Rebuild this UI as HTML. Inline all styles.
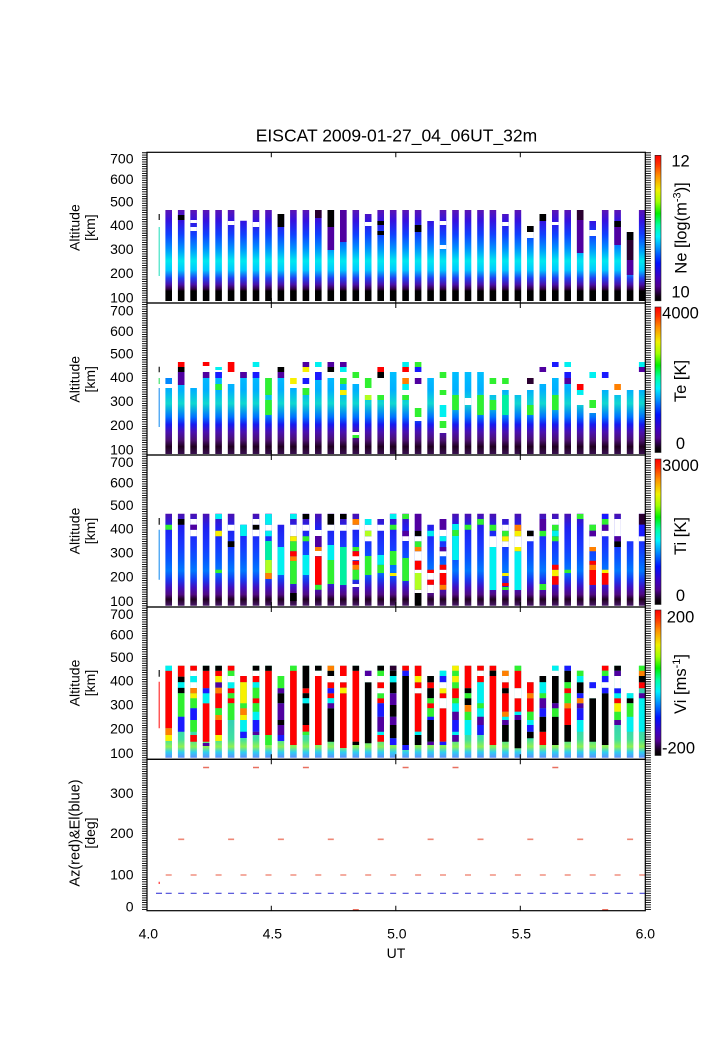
<!DOCTYPE html>
<html><head><meta charset="utf-8">
<style>
body{margin:0;background:#fff}
svg{display:block}
text{font-family:"Liberation Sans",Arial,sans-serif;fill:#000}
.cl path{fill:none;stroke-width:6.6}
.r{stroke:#ff0000}.k{stroke:#000}.p{stroke:#5000a0}.d{stroke:#2a0030}.b{stroke:#1a1aff}.l{stroke:#0088ff}.c{stroke:#00f0f0}.t{stroke:#00f0a0}.g{stroke:#30f030}.v{stroke:#b0ff20}.y{stroke:#f8f000}.o{stroke:#ff8000}.w{stroke:#fff}
.b1{stroke:url(#g1)}.b2{stroke:url(#g2)}.b3{stroke:url(#g3)}.b4{stroke:url(#g4)}
.th path{fill:none;stroke-width:1.1}
</style></head>
<body>
<svg width="708" height="1063" viewBox="0 0 708 1063" xmlns="http://www.w3.org/2000/svg">
<defs>
<linearGradient id="g1" gradientUnits="userSpaceOnUse" x1="0" y1="210" x2="0" y2="301">
<stop offset="0" stop-color="#5a14b4"/><stop offset="0.12" stop-color="#3412e0"/><stop offset="0.27" stop-color="#1040ff"/><stop offset="0.42" stop-color="#0090ff"/><stop offset="0.56" stop-color="#00e8f0"/><stop offset="0.66" stop-color="#00c8ff"/><stop offset="0.75" stop-color="#2040f0"/><stop offset="0.82" stop-color="#4a10a8"/><stop offset="0.87" stop-color="#300040"/><stop offset="0.89" stop-color="#000"/><stop offset="1" stop-color="#000"/>
</linearGradient>
<linearGradient id="g2" gradientUnits="userSpaceOnUse" x1="0" y1="362" x2="0" y2="454">
<stop offset="0" stop-color="#00c8ff"/><stop offset="0.3" stop-color="#00b0ff"/><stop offset="0.45" stop-color="#10d8d0"/><stop offset="0.6" stop-color="#0070ff"/><stop offset="0.68" stop-color="#1818f0"/><stop offset="0.76" stop-color="#4a10b0"/><stop offset="0.85" stop-color="#4a1070"/><stop offset="0.92" stop-color="#200020"/><stop offset="1" stop-color="#3a1050"/>
</linearGradient>
<linearGradient id="g3" gradientUnits="userSpaceOnUse" x1="0" y1="513.7" x2="0" y2="605.7">
<stop offset="0" stop-color="#4a10b0"/><stop offset="0.15" stop-color="#2020f0"/><stop offset="0.35" stop-color="#1838ff"/><stop offset="0.5" stop-color="#0858ff"/><stop offset="0.62" stop-color="#0078ff"/><stop offset="0.72" stop-color="#1838f0"/><stop offset="0.8" stop-color="#4010c0"/><stop offset="0.88" stop-color="#500a80"/><stop offset="0.93" stop-color="#200020"/><stop offset="1" stop-color="#4a1a6a"/>
</linearGradient>
<linearGradient id="g4" gradientUnits="userSpaceOnUse" x1="0" y1="665.7" x2="0" y2="757.7">
<stop offset="0" stop-color="#40d8a0"/><stop offset="0.5" stop-color="#30c8c0"/><stop offset="0.8" stop-color="#40e0a0"/><stop offset="0.88" stop-color="#90f050"/><stop offset="0.94" stop-color="#30d0f0"/><stop offset="1" stop-color="#6090ff"/>
</linearGradient>
<linearGradient id="cb" x1="0" y1="0" x2="0" y2="1">
<stop offset="0" stop-color="#ff0000"/><stop offset="0.06" stop-color="#ff3000"/><stop offset="0.14" stop-color="#ff9000"/><stop offset="0.24" stop-color="#f0f000"/><stop offset="0.32" stop-color="#a0ff00"/><stop offset="0.4" stop-color="#00f000"/><stop offset="0.48" stop-color="#00ffa0"/><stop offset="0.56" stop-color="#00f0ff"/><stop offset="0.64" stop-color="#0090ff"/><stop offset="0.74" stop-color="#0010ff"/><stop offset="0.84" stop-color="#4000c0"/><stop offset="0.9" stop-color="#500090"/><stop offset="0.97" stop-color="#100010"/><stop offset="1" stop-color="#000"/>
</linearGradient>
</defs>
<rect width="708" height="1063" fill="#fff"/>

<text x="396.5" y="141.7" font-size="17.5" text-anchor="middle">EISCAT 2009-01-27_04_06UT_32m</text>

<!-- PANEL 1 -->
<g class="cl">
<path class="b1" d="M168.7 210V301M181.2 210V301M193.6 210V301M206.1 210V301M218.6 210V301M231.1 210V301M243.5 220.7V301M256 210V301M268.5 210V301M280.9 214V301M293.4 210V301M305.9 210V301M318.3 210V301M330.8 210V301M343.3 210V301M355.8 210V301M368.2 214V301M380.7 210V301M393.2 210V301M405.6 210V301M418.1 210V301M430.6 221V301M443 210V301M455.5 210V301M468 210V301M480.5 210V301M492.9 210V301M505.4 214V301M517.9 210V301M530.3 226V301M542.8 214V301M555.3 210V301M567.7 210V301M580.2 210V301M592.7 221V301M605.2 210V301M617.6 210V301M630.1 232V301M642.2 210V301"/>
<path class="k" d="M181.2 215V220M280.9 214V227M330.8 210V227M380.7 221V225M380.7 231V235M418.1 225V232M530.3 226V232M542.8 214V221M617.6 221V227M630.1 232V240"/>
<path class="w" d="M193.6 220V223M193.6 227V231M231.1 221V225M256 222V227M368.2 222V226M443 221V225M443 245V249M505.4 222V226M530.3 232V238M555.3 222V225M592.7 230V236"/>
<path class="p" d="M330.8 227V250M343.3 210V242M580.2 220V253M617.6 227V245M630.1 260V275"/>
<path class="d" d="M318.3 210V218M580.2 210V220M630.1 240V260"/>
</g>

<!-- PANEL 2 -->
<g class="cl">
<path class="b2" d="M168.7 388V454M181.2 372V454M193.6 388V454M206.1 378V454M218.6 372V454M231.1 384V454M243.5 372V454M256 372V454M268.5 378V454M280.9 378V454M293.4 388V454M305.9 388V454M318.3 372V454M330.8 378V454M343.3 378V454M355.8 384V454M368.2 395V454M380.7 395V454M393.2 372V454M405.6 395V454M418.1 421V454M430.6 378V454M443 433V454M455.5 372V454M468 372V454M480.5 372V454M492.9 395V454M505.4 390V454M517.9 395V454M530.3 390V454M542.8 384V454M555.3 378V454M567.7 384V454M580.2 405V454M592.7 413V454M605.2 390V454M617.6 395V454M630.1 390V454M642.2 390V454"/>
<path class="r" d="M181.2 362V367M206.1 362V366M231.1 362V372M380.7 367V372M405.6 367V372M580.2 384V390"/>
<path class="k" d="M181.2 367V372M280.9 367V372M330.8 367V372M380.7 372V378"/>
<path class="p" d="M181.2 372V385M206.1 372V378M243.5 372V378M280.9 372V378M305.9 362V367M330.8 362V367M343.3 362V367M418.1 378V384M542.8 367V372M567.7 378V384M642.2 367V372"/>
<path class="d" d="M530.3 378V384"/>
<path class="l" d="M168.7 378V384"/>
<path class="b" d="M218.6 372V378M256 372V378M305.9 378V384M318.3 372V380M418.1 367V372M555.3 362V367M567.7 372V378M605.2 372V378"/>
<path class="c" d="M218.6 367V370M256 362V367M318.3 362V367M343.3 367V372M405.6 362V367M405.6 384V390M443 405V417M567.7 362V367M580.2 390V395M592.7 372V378M642.2 362V367"/>
<path class="g" d="M218.6 384V390M268.5 378V395M268.5 400V415M305.9 388V395M343.3 378V384M355.8 372V378M355.8 435V438M368.2 378V388M380.7 395V400M405.6 395V400M418.1 362V367M418.1 408V417M443 372V378M443 390V395M443 421V428M455.5 395V410M480.5 395V415M492.9 378V384M492.9 400V410M505.4 378V384M530.3 405V415M555.3 395V410M592.7 400V408"/>
<path class="v" d="M368.2 395V400"/>
<path class="y" d="M293.4 378V384M305.9 367V372M343.3 390V395"/>
<path class="o" d="M405.6 378V384M617.6 384V390"/>
<path class="w" d="M355.8 432V435M468 398V405"/>
<path class="t" d="M505.4 395V415"/>
</g>

<!-- PANEL 3 -->
<g class="cl">
<path class="b3" d="M168.7 513.7V605.7M181.2 513.7V605.7M193.6 513.7V605.7M206.1 513.7V605.7M218.6 513.7V605.7M231.1 513.7V605.7M243.5 524.7V605.7M256 513.7V605.7M268.5 513.7V605.7M280.9 524.7V605.7M293.4 513.7V605.7M305.9 513.7V605.7M318.3 513.7V605.7M330.8 513.7V605.7M343.3 513.7V605.7M355.8 513.7V605.7M368.2 519V605.7M380.7 519V605.7M393.2 513.7V605.7M405.6 513.7V605.7M418.1 513.7V605.7M430.6 524.7V605.7M443 519V605.7M455.5 513.7V605.7M468 513.7V605.7M480.5 513.7V605.7M492.9 513.7V605.7M505.4 519V605.7M517.9 513.7V605.7M530.3 530.7V605.7M542.8 513.7V605.7M555.3 513.7V605.7M567.7 513.7V605.7M580.2 513.7V605.7M592.7 524.7V605.7M605.2 513.7V605.7M617.6 513.7V605.7M630.1 541.3V605.7M642.2 513.7V605.7"/>
<path class="g" d="M168.7 524.7V529.7M218.6 569.7V573M293.4 541.3V551.3M293.4 561V584M305.9 536.3V541.3M318.3 584.7V589.7M330.8 560V584M355.8 547V551M355.8 569.7V579.7M368.2 556V575M380.7 564.7V573M393.2 524.7V529.7M393.2 551V565M405.6 514V519M405.6 558V581M418.1 541.3V547M455.5 530V536M468 524.7V529.7M480.5 519V524.7M492.9 524.7V530.7M505.4 530.7V536.3M505.4 587V590M542.8 530.7V536.3M542.8 584V590M555.3 524.7V530.7M555.3 536.3V541.3M567.7 569.7V573M580.2 514V519M592.7 524.7V530.7M605.2 519V524.7"/>
<path class="k" d="M181.2 519V524.7M231.1 541.3V547M256 524.7V529.7M293.4 593V601M305.9 514V519M330.8 514V524.7M343.3 514V519M418.1 530.7V536.3M418.1 593V605.7M530.3 530.7V536.3M617.6 541.3V547"/>
<path class="w" d="M193.6 519V524.7M193.6 529.7V536.3M231.1 524.7V530.7M256 519V524.7M256 529.7V536.3M268.5 524.7V530.7M293.4 524.7V536.3M305.9 524.7V530.7M318.3 530V536M318.3 551V556M330.8 524.7V530.7M343.3 524.7V530.7M355.8 524.7V529.7M355.8 556V560M355.8 584V587M368.2 524.7V530.7M368.2 536.3V541.3M380.7 524.7V530.7M405.6 536V541M418.1 536.3V541.3M418.1 551.3V560.7M418.1 569.7V573M418.1 589.7V593M430.6 573V579.7M430.6 584.7V593M443 529.7V536.3M443 551.3V556.3M443 569.7V573M492.9 536.3V547M505.4 524.7V530.7M505.4 541.3V547M517.9 536.3V547M530.3 536.3V541.3M555.3 519V524.7M592.7 536.3V547M605.2 530.7V536.3M617.6 519V536.3M642.2 536.3V541.3"/>
<path class="p" d="M193.6 524.7V529.7M318.3 536V547M405.6 530.7V536.3M418.1 514V530.7M443 519V529.7M443 547V551.3M542.8 519V530.7M592.7 530.7V536.3M605.2 524.7V530.7M617.6 536.3V541.3"/>
<path class="c" d="M218.6 514V519M243.5 524.7V536M268.5 514V524.7M268.5 530.7V536.3M280.9 547V575M293.4 514V519M305.9 555V575M330.8 545V560M368.2 519V524.7M380.7 555V564.7M393.2 514V519M430.6 530.7V536.3M443 536.3V541.3M455.5 524V530M455.5 536V560M492.9 547V590M517.9 551.3V590M555.3 530.7V536.3"/>
<path class="y" d="M218.6 530.7V536.3M293.4 536.3V541.3M393.2 573V576M505.4 536.3V541.3M505.4 573V576M517.9 530.7V536.3M517.9 547V551.3M555.3 569.7V576.3M605.2 569.7V573"/>
<path class="o" d="M268.5 573V579M293.4 556.3V561M318.3 547V551M355.8 519V524.7M355.8 564.7V569.7M418.1 547V551.3M443 584.7V589.7M517.9 524.7V530.7M592.7 547V551.3M592.7 564.7V570"/>
<path class="r" d="M293.4 551.3V556.3M318.3 556.3V584.7M355.8 551.3V556.3M355.8 560.7V564.7M418.1 560.7V569.7M430.6 569.7V573M430.6 579.7V584.7M443 564.7V569.7M443 573V584.7M505.4 583V586M555.3 564.7V569.7M555.3 576.3V584.7M592.7 560.7V564.7M592.7 570V585M605.2 573V584.7"/>
<path class="t" d="M268.5 541V560M343.3 547V585"/>
<path class="v" d="M268.5 560V573M368.2 530.7V536.3M418.1 573V589.7"/>
<path class="d" d="M642.2 514V524.7"/>
<path class="b" d="M605.2 514V519M642.2 524.7V536.3"/>
</g>

<!-- PANEL 4 -->
<g class="cl">
<path class="b4" d="M168.7 665.7V757.7M181.2 665.7V757.7M193.6 665.7V757.7M206.1 665.7V757.7M218.6 665.7V757.7M231.1 665.7V757.7M243.5 676V757.7M256 665.7V757.7M268.5 665.7V757.7M280.9 676V757.7M293.4 665.7V757.7M305.9 665.7V757.7M318.3 665.7V757.7M330.8 665.7V757.7M343.3 665.7V757.7M355.8 665.7V757.7M368.2 670.7V757.7M380.7 665.7V757.7M393.2 665.7V757.7M405.6 665.7V757.7M418.1 665.7V757.7M430.6 676V757.7M443 670.7V757.7M455.5 665.7V757.7M468 665.7V757.7M480.5 665.7V757.7M492.9 665.7V757.7M505.4 670.7V757.7M517.9 665.7V757.7M530.3 682.3V757.7M542.8 676V757.7M555.3 665.7V757.7M567.7 665.7V757.7M580.2 670.7V757.7M592.7 682.3V757.7M605.2 665.7V757.7M617.6 665.7V757.7M630.1 693.3V757.7M642.2 665.7V757.7"/>
<path class="r" d="M168.7 670.7V728.3M181.2 665.7V676.7M193.6 665.7V670.7M193.6 735V741.7M206.1 670.7V688.3M206.1 703.3V741.7M218.6 670.7V676M218.6 693.3V708.3M218.6 720V735M231.1 665.7V670.7M231.1 688.3V693.3M231.1 698.3V703.3M243.5 676V682.3M256 676V682.3M256 698.3V703.3M268.5 670.7V735M293.4 670.7V745M305.9 688.3V693.3M305.9 725V731.7M318.3 676V745M330.8 682.3V688.3M330.8 693.3V698.3M343.3 665.7V676M343.3 682.3V687.7M343.3 693.3V748M355.8 670.7V741.7M380.7 682.3V688.3M380.7 698.3V703.3M380.7 735V741.7M405.6 665.7V670.7M418.1 665.7V676M418.1 682.3V688.3M418.1 693.3V731.7M430.6 682.3V688.3M430.6 703.3V708.3M443 693.3V698.3M443 708.3V741.7M455.5 688.3V698.3M468 665.7V688.3M480.5 665.7V670.7M480.5 676V682.3M492.9 665.7V670.7M492.9 676V745M505.4 682.3V688.3M505.4 693.3V711.7M517.9 670.7V688.3M517.9 698.3V711.7M530.3 682.3V693.3M530.3 698.3V711.7M542.8 731.7V745M567.7 688.3V693.3M567.7 708.3V725M605.2 665.7V670.7M617.6 698.3V703.3M642.2 682.3V688.3"/>
<path class="k" d="M181.2 676.7V682.3M181.2 687.7V693.3M206.1 665.7V670.7M218.6 665.7V670.7M256 665.7V670.7M268.5 665.7V670.7M280.9 693.3V703.3M280.9 720V725M305.9 665.7V688.3M305.9 693.3V698.3M305.9 703.3V725M318.3 665.7V670.7M330.8 670.7V676M330.8 708.3V741.7M355.8 665.7V670.7M355.8 741.7V745M368.2 682.3V743.3M380.7 665.7V670.7M393.2 670.7V676M393.2 682.3V693.3M393.2 705V716.7M393.2 725V738.3M405.6 676V745M418.1 735V745M430.6 676V682.3M430.6 688.3V698.3M430.6 720V741.7M468 688.3V693.3M468 698.3V705M492.9 670.7V676M505.4 688.3V693.3M505.4 725V741.7M517.9 720V748.3M530.3 731.7V738.3M542.8 676V682.3M542.8 716.7V731.7M555.3 676V703.3M555.3 716.7V745M567.7 670.7V682.3M567.7 725V741.7M580.2 682.3V693.3M592.7 698.3V741.7M605.2 693.3V745M617.6 665.7V670.7M630.1 698.3V703.3M642.2 676V682.3"/>
<path class="c" d="M168.7 665.7V670.7M181.2 682.3V687.7M193.6 676V682.3M206.1 693.3V703.3M231.1 682.3V688.3M243.5 720V731.7M256 682.3V687.7M256 711.7V720M305.9 698.3V703.3M330.8 698.3V703.3M380.7 731.7V735M393.2 676V682.3M418.1 731.7V735M443 670.7V676M455.5 703.3V711.7M455.5 731.7V735M468 720V735M480.5 682.3V703.3M480.5 708.3V716.7M505.4 716.7V720M517.9 711.7V715M530.3 720V725M542.8 682.3V693.3M555.3 665.7V670.7M580.2 676V682.3M580.2 720V731.7M617.6 693.3V698.3M630.1 693.3V698.3M630.1 716.7V731.7M642.2 698.3V731.7"/>
<path class="g" d="M181.2 693.3V716.7M193.6 698.3V708.3M193.6 720V731.7M218.6 708.3V715M231.1 670.7V676M231.1 693.3V698.3M231.1 703.3V720M243.5 703.3V708.3M256 687.7V698.3M256 703.3V711.7M268.5 735V745M280.9 676V688.3M293.4 665.7V670.7M305.9 731.7V735M380.7 670.7V676M380.7 693.3V698.3M430.6 698.3V703.3M430.6 708.3V716.7M455.5 670.7V676M455.5 682.3V688.3M455.5 698.3V703.3M468 693.3V698.3M468 711.7V720M480.5 703.3V708.3M517.9 665.7V670.7M530.3 711.7V720M542.8 693.3V698.3M555.3 708.3V716.7M567.7 682.3V688.3M567.7 693.3V703.3M580.2 670.7V676M605.2 670.7V676M617.6 711.7V720M630.1 703.3V716.7M642.2 665.7V670.7"/>
<path class="b" d="M181.2 716.7V731.7M193.6 708.3V720M206.1 688.3V693.3M243.5 731.7V738M256 720V731.7M280.9 735V741M330.8 688.3V693.3M380.7 703.3V716.7M393.2 738.3V745M405.6 670.7V676M405.6 745V750M430.6 716.7V720M443 676V682.3M443 741.7V745M455.5 720V731.7M480.5 725V735M530.3 725V731.7M542.8 708.3V716.7M567.7 665.7V670.7M580.2 693.3V698.3M580.2 708.3V720M592.7 682.3V688.3M605.2 676V682.3M605.2 687.7V693.3M617.6 688.3V693.3"/>
<path class="p" d="M206.1 743V746M218.6 682.3V687.7M256 731.7V735M280.9 688.3V693.3M280.9 703.3V720M280.9 725V735M330.8 703.3V708.3M368.2 670.7V676M380.7 716.7V731.7M393.2 693.3V705M393.2 716.7V725M430.6 741.7V745M455.5 711.7V720M455.5 735V741.7M480.5 716.7V725M505.4 720V725M517.9 715V720M542.8 698.3V708.3M555.3 703.3V708.3M580.2 703.3V708.3M617.6 670.7V676M617.6 720V725M642.2 693.3V698.3"/>
<path class="d" d="M393.2 665.7V670.7"/>
<path class="y" d="M168.7 735V741M193.6 693.3V698.3M218.6 676V682.3M218.6 735V741M243.5 682.3V703.3M243.5 715V720M343.3 687.7V693.3M418.1 676V682.3M443 688.3V693.3M455.5 665.7V670.7M455.5 676V682.3M617.6 703.3V711.7"/>
<path class="o" d="M168.7 728.3V735M193.6 688V693.3M218.6 687.7V693.3M218.6 715V720M243.5 708.3V715M330.8 665.7V670.7M468 705V711.7M505.4 670.7V676M505.4 711.7V716.7M530.3 693.3V698.3M567.7 703.3V708.3M580.2 698.3V703.3M642.2 670.7V676"/>
<path class="w" d="M193.6 670.7V676M193.6 682.3V688M231.1 676V682.3M256 670.7V676M318.3 670.7V676M330.8 676V682.3M343.3 676V682.3M368.2 676V682.3M380.7 676V682.3M380.7 688.3V693.3M418.1 688.3V693.3M443 682.3V688.3M443 698.3V708.3M480.5 670.7V676M505.4 676V682.3M517.9 688.3V698.3M555.3 670.7V676M592.7 688.3V698.3M605.2 682.3V687.7M617.6 676V688.3"/>
</g>

<!-- thin columns at 4.05 -->
<g class="th">
<path stroke="#000" d="M159.2 214V220M159.2 366.7V372.3M159.2 518V524.7M159.2 670V676.7"/>
<path stroke="#30e0c0" d="M159.2 227V276"/>
<path stroke="#30e060" d="M159.2 378V384"/>
<path stroke="#2090f0" d="M159.2 388V427M159.2 529.7V579.7"/>
<path stroke="#ff2020" d="M159.2 681.7V728.3M159.2 881.7V884"/>
</g>

<!-- PANEL 5 markers -->
<path fill="none" stroke="#e87060" stroke-width="1.6" d="M203.1 767.5h6M253 767.5h6M302.9 767.5h6M402.6 767.5h6M452.5 767.5h6M552.3 767.5h6"/>
<path fill="none" stroke="#ee8877" stroke-width="1.6" d="M178.2 839.3h6M228.1 839.3h6M277.9 839.3h6M327.8 839.3h6M377.7 839.3h6M427.6 839.3h6M477.5 839.3h6M527.3 839.3h6M577.2 839.3h6M627.1 839.3h6"/>
<path fill="none" stroke="#f09080" stroke-width="1.6" d="M165.7 875h6M190.6 875h6M215.6 875h6M240.5 875h6M265.5 875h6M290.4 875h6M315.3 875h6M340.3 875h6M365.2 875h6M390.2 875h6M415.1 875h6M440 875h6M465 875h6M489.9 875h6M514.9 875h6M539.8 875h6M564.7 875h6M589.7 875h6M614.6 875h6M639.2 875h6"/>
<path fill="none" stroke="#e87060" stroke-width="1.6" d="M352.8 909.8h6M602.2 909.8h6"/>
<line x1="165.7" y1="893.3" x2="645" y2="893.3" stroke="#4848d8" stroke-width="1.2" stroke-dasharray="6 6.47"/>
<line x1="156" y1="893.3" x2="162" y2="893.3" stroke="#4848d8" stroke-width="1.2"/>

<!-- axes frames -->
<g fill="none" stroke="#000" stroke-width="1.2">
<rect x="147" y="152.3" width="498.3" height="150.7"/>
<rect x="147" y="303" width="498.3" height="152"/>
<rect x="147" y="455" width="498.3" height="152"/>
<rect x="147" y="607" width="498.3" height="152.3"/>
<rect x="147" y="759.3" width="498.3" height="151.4"/>
</g>
<!-- y ticks (outward) -->
<line x1="144.5" y1="152.3" x2="144.5" y2="910.7" stroke="#000" stroke-width="5" stroke-dasharray="0.9 1.4"/>
<line x1="648.2" y1="152.3" x2="648.2" y2="910.7" stroke="#000" stroke-width="5.5" stroke-dasharray="0.9 1.4"/>
<!-- x ticks -->
<path fill="none" stroke="#000" stroke-width="1" d="M271.3 152.3v5M271.3 298v10M271.3 450v10M271.3 602v10M271.3 754.3v10M271.3 905.7v5M395.8 152.3v5M395.8 298v10M395.8 450v10M395.8 602v10M395.8 754.3v10M395.8 905.7v5M520.3 152.3v5M520.3 298v10M520.3 450v10M520.3 602v10M520.3 754.3v10M520.3 905.7v5"/>

<!-- colorbars -->
<g stroke="#222" stroke-width="0.6">
<rect x="655" y="155.3" width="6" height="145.5" fill="url(#cb)"/>
<rect x="655" y="307" width="6" height="145.5" fill="url(#cb)"/>
<rect x="655" y="459" width="6" height="145.5" fill="url(#cb)"/>
<rect x="655" y="610" width="6" height="145.5" fill="url(#cb)"/>
</g>

<!-- y tick labels -->
<g font-size="14" text-anchor="end">
<text x="133.5" y="163.7">700</text><text x="133.5" y="184.2">600</text><text x="133.5" y="206.7">500</text><text x="133.5" y="230">400</text><text x="133.5" y="254">300</text><text x="133.5" y="278">200</text><text x="133.5" y="302.7">100</text>
<text x="133.5" y="315.5">700</text><text x="133.5" y="336">600</text><text x="133.5" y="358.5">500</text><text x="133.5" y="381.8">400</text><text x="133.5" y="405.8">300</text><text x="133.5" y="429.8">200</text><text x="133.5" y="454.5">100</text>
<text x="133.5" y="467.2">700</text><text x="133.5" y="487.7">600</text><text x="133.5" y="510.2">500</text><text x="133.5" y="533.5">400</text><text x="133.5" y="557.5">300</text><text x="133.5" y="581.5">200</text><text x="133.5" y="606.2">100</text>
<text x="133.5" y="619">700</text><text x="133.5" y="639.5">600</text><text x="133.5" y="662">500</text><text x="133.5" y="685.3">400</text><text x="133.5" y="709.3">300</text><text x="133.5" y="733.3">200</text><text x="133.5" y="758">100</text>
<text x="133.5" y="797.8">300</text><text x="133.5" y="838">200</text><text x="133.5" y="879.7">100</text><text x="133.5" y="911.7">0</text>
</g>

<!-- y axis titles -->
<g font-size="14" text-anchor="middle">
<text transform="translate(79.5,227.6) rotate(-90)">Altitude</text>
<text transform="translate(95,227.6) rotate(-90)">[km]</text>
<text transform="translate(79.5,379.3) rotate(-90)">Altitude</text>
<text transform="translate(95,379.3) rotate(-90)">[km]</text>
<text transform="translate(79.5,531) rotate(-90)">Altitude</text>
<text transform="translate(95,531) rotate(-90)">[km]</text>
<text transform="translate(79.5,683) rotate(-90)">Altitude</text>
<text transform="translate(95,683) rotate(-90)">[km]</text>
<text transform="translate(79.5,833) rotate(-90)" font-size="14.5">Az(red)&amp;El(blue)</text>
<text transform="translate(95,833) rotate(-90)">[deg]</text>
</g>

<!-- x tick labels -->
<g font-size="14" text-anchor="middle">
<text x="148.3" y="938.3">4.0</text>
<text x="272.3" y="938.3">4.5</text>
<text x="396.8" y="938.3">5.0</text>
<text x="521.3" y="938.3">5.5</text>
<text x="645.3" y="938.3">6.0</text>
<text x="396" y="958">UT</text>
</g>

<!-- colorbar labels -->
<g font-size="16.5" text-anchor="middle">
<text x="680.5" y="166.5">12</text>
<text x="680.5" y="297.5">10</text>
<text transform="translate(686.7,228) rotate(-90)">Ne [log(m<tspan dy="-6" font-size="11">-3</tspan><tspan dy="6">)]</tspan></text>
<text x="680.5" y="318.3">4000</text>
<text x="680.5" y="449.2">0</text>
<text transform="translate(686,381) rotate(-90)">Te [K]</text>
<text x="680.5" y="471">3000</text>
<text x="680.5" y="601">0</text>
<text transform="translate(686,536) rotate(-90)">Ti [K]</text>
<text x="680.5" y="622.6">200</text>
<text x="678.5" y="753.6">-200</text>
<text transform="translate(686,684) rotate(-90)">Vi [ms<tspan dy="-6" font-size="11">-1</tspan><tspan dy="6">]</tspan></text>
</g>
</svg>
</body></html>
